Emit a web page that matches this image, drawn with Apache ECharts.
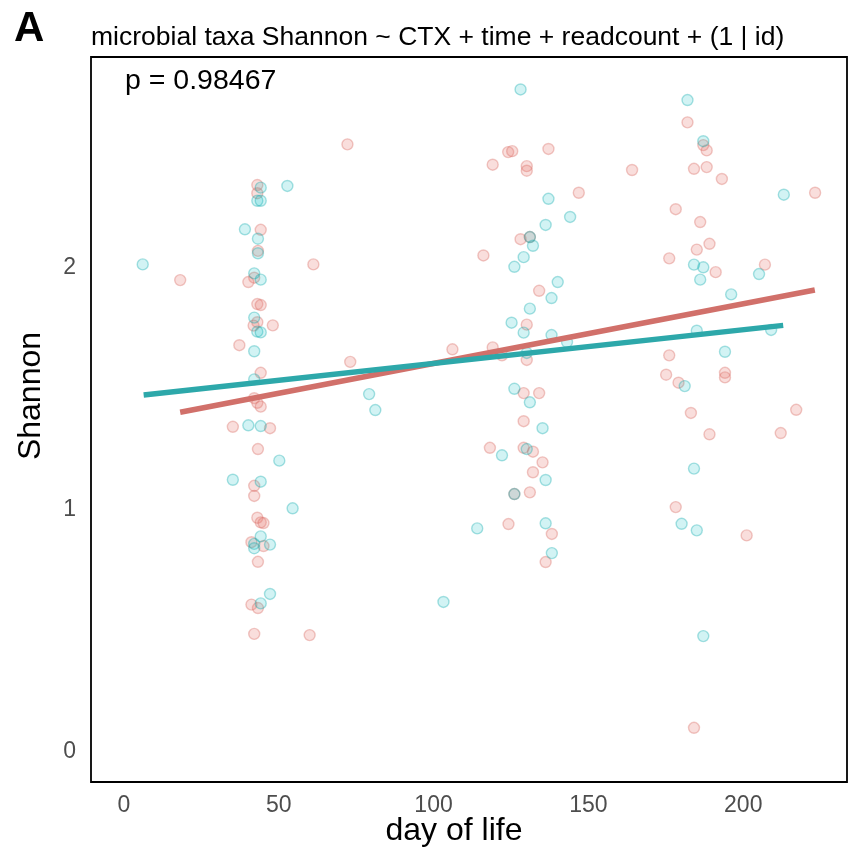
<!DOCTYPE html>
<html>
<head>
<meta charset="utf-8">
<script src="https://cdn.jsdelivr.net/npm/echarts@6/dist/echarts.min.js"></script>
<style>
html,body{margin:0;padding:0;background:#fff;}
#chart{width:849px;height:852px;}
</style>
</head>
<body>
<div id="chart"></div>
<script>
// ---- data ----
const xTicks = [0, 50, 100, 150, 200];
const yTicks = [0, 1, 2];

// group "red" (x = day of life, y = Shannon)
const redPoints = [
  [43.1,2.343],[43.1,2.309],[44.2,2.158],[43.3,2.071],[18.2,1.950],[42.1,1.960],[40.2,1.942],
  [43.1,1.851],[44.2,1.847],[43.1,1.776],[41.9,1.762],[48.1,1.763],[37.3,1.681],[44.2,1.567],
  [42.1,1.462],[43.1,1.443],[44.2,1.427],[35.2,1.344],[47.2,1.338],[43.3,1.252],[42.1,1.100],
  [42.1,1.058],[43.1,0.968],[44.2,0.949],[45.1,0.946],[41.2,0.867],[45.1,0.851],[43.3,0.786],
  [41.2,0.609],[43.3,0.595],[42.1,0.488],
  [60.0,0.483],[61.2,2.015],[72.2,2.511],[73.1,1.612],
  [124.1,2.479],[125.4,2.483],[137.1,2.492],[119.1,2.427],[130.1,2.421],[130.1,2.402],[146.9,2.311],
  [128.1,2.119],[131.1,2.128],[116.1,2.052],[134.1,1.906],[130.1,1.766],[106.1,1.664],[119.1,1.672],
  [130.1,1.620],[122.1,1.639],[129.1,1.483],[134.1,1.483],
  [129.1,1.367],[118.2,1.257],[129.1,1.257],[132.1,1.241],[135.2,1.197],[132.1,1.156],[126.1,1.066],
  [131.1,1.073],[124.2,0.942],[138.2,0.901],[136.2,0.785],
  [182.0,2.602],[187.1,2.508],[188.2,2.486],[164.1,2.405],[184.1,2.410],[188.2,2.417],[193.1,2.368],
  [223.2,2.311],[178.2,2.243],[186.1,2.190],[189.1,2.100],[185.0,2.076],[176.1,2.040],[207.0,2.014],
  [191.1,1.983],[176.1,1.639],[175.1,1.559],[179.1,1.526],[194.1,1.567],[194.1,1.548],[217.1,1.414],
  [183.1,1.401],[189.1,1.313],[212.1,1.318],[178.2,1.012],[201.1,0.895],[184.1,0.100]
];

// group "teal"
const tealPoints = [
  [44.2,2.332],[52.8,2.339],[43.1,2.278],[44.2,2.278],[39.1,2.160],[43.3,2.121],[43.3,2.061],
  [6.1,2.015],[42.1,1.978],[44.2,1.952],[42.1,1.795],[43.1,1.737],[44.2,1.734],[42.1,1.656],[42.1,1.540],
  [40.2,1.350],[44.2,1.347],[50.2,1.204],[35.2,1.125],[44.2,1.117],[54.5,1.007],[44.2,0.891],
  [42.1,0.860],[47.2,0.857],[42.1,0.842],[47.2,0.653],[44.2,0.614],
  [79.2,1.479],[81.2,1.413],
  [128.1,2.738],[137.1,2.286],[144.1,2.211],[136.2,2.178],[131.1,2.128],[132.1,2.092],[129.1,2.045],
  [126.1,2.005],[140.1,1.942],[138.1,1.876],[131.1,1.832],[125.2,1.774],[129.1,1.733],[138.1,1.723],
  [143.1,1.694],[130.1,1.649],[126.1,1.501],[131.1,1.445],
  [135.2,1.338],[130.1,1.252],[122.1,1.226],[136.2,1.124],[126.1,1.066],[114.1,0.924],[136.2,0.945],
  [138.2,0.822],[103.2,0.620],
  [182.0,2.694],[187.1,2.524],[213.1,2.303],[184.1,2.014],[187.1,2.003],[205.1,1.975],[186.1,1.952],
  [196.1,1.891],[185.0,1.741],[209.0,1.744],[194.1,1.654],[181.1,1.512],
  [184.1,1.171],[180.1,0.943],[185.0,0.916],[187.1,0.479]
];

// fitted lines (end points)
const redFit = [[18.2,1.404],[223.1,1.909]];
const tealFit = [[6.4,1.475],[212.9,1.763]];

const titleText = 'microbial taxa Shannon ~ CTX + time + readcount + (1 | id)';
const pText = 'p = 0.98467';
const panelLetter = 'A';
const xName = 'day of life';
const yName = 'Shannon';

// ---- chart ----
const FONT = '"Liberation Sans", Arial, Helvetica, sans-serif';
const chart = echarts.init(document.getElementById('chart'), null, {renderer: 'canvas'});

chart.setOption({
  animation: false,
  backgroundColor: '#ffffff',
  grid: {
    left: 91, right: 2, top: 57, bottom: 70,
    show: true, borderColor: '#000000', borderWidth: 1.8, backgroundColor: '#ffffff'
  },
  xAxis: {
    type: 'value', min: -10.6, max: 233.5,
    axisLine: {show: false}, axisTick: {show: false}, splitLine: {show: false},
    axisLabel: {customValues: xTicks, color: '#4D4D4D', fontSize: 23, fontFamily: FONT, margin: 12}
  },
  yAxis: {
    type: 'value', min: -0.124, max: 2.872,
    axisLine: {show: false}, axisTick: {show: false}, splitLine: {show: false},
    axisLabel: {customValues: yTicks, color: '#4D4D4D', fontSize: 23, fontFamily: FONT, margin: 15}
  },
  series: [
    {
      type: 'scatter', data: redPoints, symbol: 'circle', symbolSize: 11,
      itemStyle: {color: 'rgba(232,120,112,0.30)', borderColor: 'rgba(215,105,98,0.45)', borderWidth: 1.4},
      z: 2
    },
    {
      type: 'scatter', data: tealPoints, symbol: 'circle', symbolSize: 11,
      itemStyle: {color: 'rgba(0,185,190,0.22)', borderColor: 'rgba(0,165,170,0.42)', borderWidth: 1.4},
      z: 2
    },
    {
      type: 'line', data: redFit, symbol: 'none', silent: true,
      lineStyle: {color: '#D1706A', width: 5.5, cap: 'butt'}, z: 3
    },
    {
      type: 'line', data: tealFit, symbol: 'none', silent: true,
      lineStyle: {color: '#2DA8AA', width: 5.5, cap: 'butt'}, z: 4
    }
  ],
  graphic: [
    {type: 'text', left: 14, top: 8, style: {text: panelLetter, fontSize: 42, fontWeight: 'bold', fontFamily: FONT, fill: '#000'}},
    {type: 'text', x: 91, y: 38, style: {text: titleText, fontSize: 26.5, fontFamily: FONT, fill: '#000', textVerticalAlign: 'middle'}},
    {type: 'text', x: 125, y: 81, style: {text: pText, fontSize: 28.5, fontFamily: FONT, fill: '#000', textVerticalAlign: 'middle'}},
    {type: 'text', x: 454, y: 831, style: {text: xName, fontSize: 32, fontFamily: FONT, fill: '#000', textAlign: 'center', textVerticalAlign: 'middle'}},
    {type: 'text', x: 31, y: 396, rotation: Math.PI / 2, style: {text: yName, fontSize: 32, fontFamily: FONT, fill: '#000', textAlign: 'center', textVerticalAlign: 'middle'}}
  ]
});
</script>
</body>
</html>
